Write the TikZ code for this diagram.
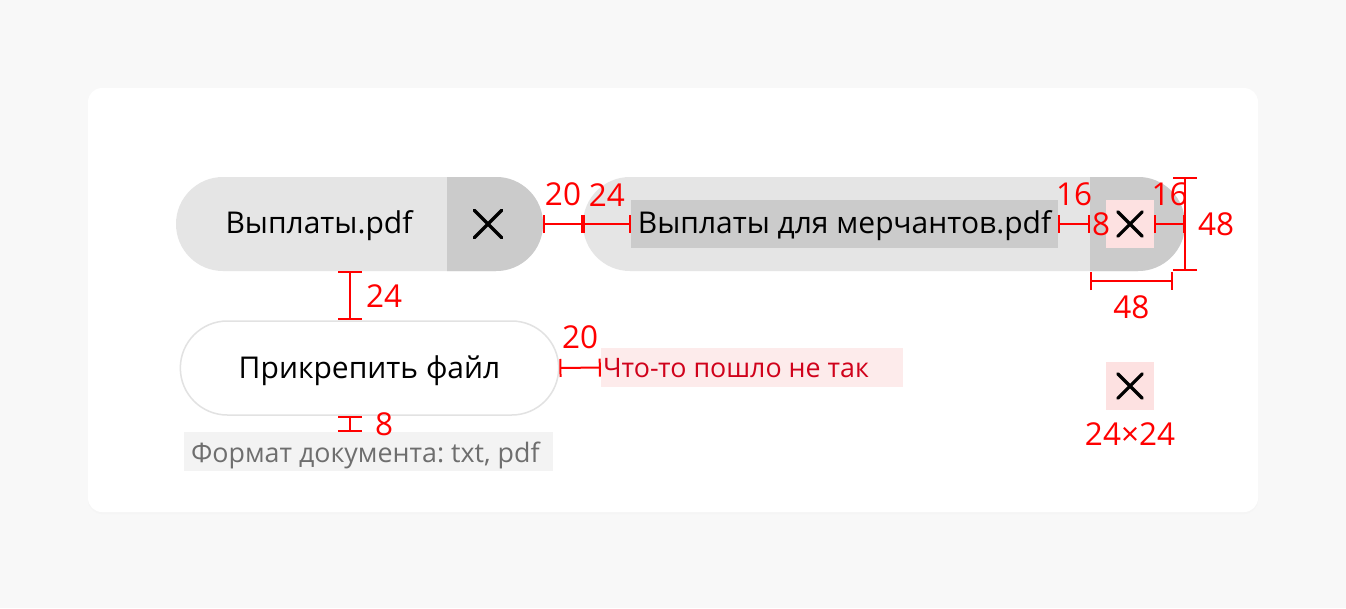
\documentclass[tikz,border=0pt]{standalone}
\usepackage{fontspec}
\setmainfont{Open Sans}
\usepackage{tikz}
\usetikzlibrary{shapes.misc}
\usetikzlibrary{arrows.meta}
\usetikzlibrary{positioning}
\usetikzlibrary{calc}
\frenchspacing

\definecolor{pagebg}{HTML}{F8F8F8}
\definecolor{chiplight}{HTML}{E5E5E5}
\definecolor{chipdark}{HTML}{CBCBCB}
\definecolor{iconpink}{HTML}{FDE1E1}
\definecolor{errorbg}{HTML}{FDEBEB}
\definecolor{errortext}{HTML}{D0021B}
\definecolor{hintbg}{HTML}{F3F3F3}
\definecolor{hinttext}{HTML}{6E6E6E}
\definecolor{outline}{HTML}{E2E2E2}
\definecolor{measure}{HTML}{FF0000}

\newcommand\chipfont{\fontsize{30}{36}\selectfont}
\newcommand\smallfont{\fontsize{26.8}{32}\selectfont}

\begin{document}
\begin{tikzpicture}[
        x = 1pt, y = -1pt,
        chip/.style = {rounded rectangle, fill = chiplight, minimum height = 94pt, inner sep = 0pt},
        chipclose/.style = {rounded rectangle, rounded rectangle west arc = none, fill = chipdark, minimum height = 94pt, inner sep = 0pt},
        iconbox/.style = {fill = iconpink, minimum size = 48pt, inner sep = 0pt},
        crossbox/.style = {minimum size = #1, inner sep = 0pt},
        xmark/.style = {line width = 3.2pt, line cap = round},
        dimline/.style = {draw = measure, line width = 2pt, arrows = {Bar[width = 18pt]-Bar[width = 18pt]}},
        dimvert/.style = {dimline, arrows = {Bar[width = 24pt]-Bar[width = 24pt]}},
        dimtext/.style = {text = measure, font = \fontsize{31.5}{31}\selectfont, inner sep = 0pt},
        ]
    \useasboundingbox (0,0) rectangle (1346,608);
    \fill[pagebg] (0,0) rectangle (1346,608);
    \fill[black!4, rounded corners = 14pt] (88,89) rectangle (1258,514);
    \fill[white, rounded corners = 14pt] (88,88) rectangle (1258,512);

    % first chip
    \node[chip, minimum width = 367pt] (pillA) at (359.5,224) {};
    \node[chipclose, minimum width = 96pt] (closeA) at (495,224) {};
    \node[font = \chipfont, anchor = base] (nameA) at (319,233) {Выплаты.pdf};
    \node[crossbox = 27pt] (crossA) at (488,224) {};
    \draw[xmark] (crossA.north west) -- (crossA.south east) (crossA.north east) -- (crossA.south west);

    % second chip
    \node[chip, minimum width = 602pt] (pillB) at (884,224) {};
    \node[chipclose, minimum width = 95pt] (closeB) at (1137.5,224) {};
    \node[fill = chipdark, font = \chipfont, inner xsep = 2pt,
          text height = 22pt, text depth = 3.4pt, minimum height = 48pt] (nameB) at (844.5,224) {\makebox[423pt]{Выплаты для мерчантов.pdf}};
    \node[iconbox] (iconB) at (1130,224) {};
    \node[crossbox = 24pt] (crossB) at (iconB) {};
    \draw[xmark] (crossB.north west) -- (crossB.south east) (crossB.north east) -- (crossB.south west);

    % attach button, error and hint
    \node[rounded rectangle, draw = outline, line width = 1.5pt, fill = white, minimum width = 385pt, minimum height = 94pt,
          font = \chipfont, text height = 21.3pt, text depth = 0.7pt] (attach) at (369.5,368) {Прикрепить файл};
    \node[fill = errorbg, text = errortext, font = \smallfont, inner xsep = 2pt,
          text height = 20pt, text depth = 0.4pt, minimum height = 39pt] (error) at (752,367.5) {\makebox[298pt][l]{Что-то пошло не так}};
    \node[fill = hintbg, text = hinttext, font = \smallfont, inner xsep = 7pt,
          text height = 21pt, text depth = 0pt, minimum height = 39pt] (hint) at (368.5,451.5) {\makebox[355pt][l]{Формат документа: txt, pdf}};

    % icon
    \node[iconbox] (iconC) at (1130,386) {};
    \node[crossbox = 24pt] (crossC) at (iconC) {};
    \draw[xmark] (crossC.north west) -- (crossC.south east) (crossC.north east) -- (crossC.south west);
    \node[dimtext, below = 12pt of iconC] (iconSize) {24×24};

    % measures
    \coordinate (stackX) at (350,0);
    \coordinate (widthEnd) at (1173,281);
    \draw[dimline] (pillA.east) -- (pillB.west) node[dimtext, midway, above = 17pt] (gapChips) {20};
    \draw[dimline] (pillB.west) -- (nameB.west) node[dimtext, midway, above = 17pt] (padLeft) {24};
    \draw[dimline] (nameB.east) -- (closeB.west) node[dimtext, midway, above = 17pt] (padName) {16};
    \node[dimtext, anchor = west] (padIcon) at ([xshift = 2pt]closeB.west) {8};
    \draw[dimline] (iconB.east) -- (closeB.east) node[dimtext, midway, above = 17pt] (padRight) {16};
    \draw[dimvert] (closeB.east |- closeB.north) -- (closeB.east |- closeB.south) node[dimtext, midway, right = 12pt] (chipHeight) {48};
    \draw[dimline] (closeB.west |- widthEnd) -- (widthEnd) node[dimtext, midway, below = 14pt] (chipWidth) {48};
    \draw[dimvert] (pillA.south -| stackX) -- (attach.north -| stackX) node[dimtext, midway, right = 15pt] (gapStack) {24};
    \draw[dimvert] (attach.south -| stackX) -- (hint.north -| stackX) node[dimtext, midway, right = 24pt] (gapHint) {8};
    \draw[dimline] (attach.east) -- (error.west) node[dimtext, midway, above = 18pt] (gapError) {20};
\end{tikzpicture}
\end{document}
